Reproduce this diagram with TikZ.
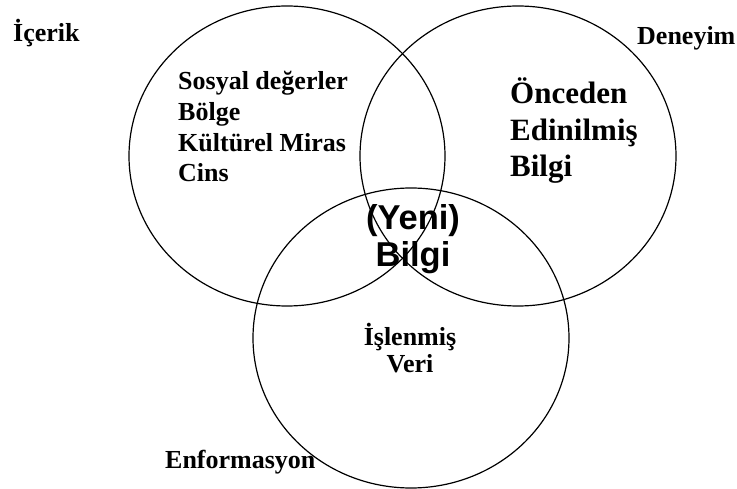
\documentclass[tikz,border=0pt]{standalone}
\usepackage{fontspec}
\setmainfont{Liberation Serif}
\newfontfamily\arialfont{Liberation Sans}
\usetikzlibrary{positioning}
\tikzstyle{ring}=[line width=1.2pt]
\tikzstyle{lbl}=[inner sep=0pt, font=\bfseries\fontsize{26}{30}\selectfont]
\tikzstyle{bigl}=[inner sep=0pt, font=\bfseries\fontsize{31}{36}\selectfont]
\tikzstyle{core}=[inner sep=0pt, font=\arialfont\bfseries\fontsize{34.5}{37}\selectfont]

\begin{document}
\begin{tikzpicture}[x=1pt, y=-1pt]
			\useasboundingbox (0,0) rectangle (737,489);
			\coordinate (icerik) at (287,156);
			\coordinate (deneyim) at (518,156);
			\coordinate (enformasyon) at (411,338);
			\foreach \c in {icerik, deneyim, enformasyon}{
				\draw[ring] (\c) ellipse [x radius=158, y radius=150];
			}
			\node[lbl, anchor=base west] (icerik-lbl) at (13,42) {İçerik};
			\node[lbl, anchor=base west] (deneyim-lbl) at (637,45) {Deneyim};
			\node[lbl, anchor=base west] (enf-lbl) at (165,468) {Enformasyon};
			\foreach \t [count=\i] in {Sosyal değerler, Bölge, Kültürel Miras, Cins}{
				\node[lbl, anchor=base west] (sos-\i) at (178,{90+30.6*(\i-1)}) {\t};
			}
			\foreach \t [count=\i] in {Önceden, Edinilmiş, Bilgi}{
				\node[bigl, anchor=base west] (onc-\i) at (510,{104+36.5*(\i-1)}) {\t};
			}
			\foreach \t [count=\i] in {(Yeni), Bilgi}{
				\node[core, anchor=base] (yeni-\i) at (413,{230+37*(\i-1)}) {\t};
			}
			\foreach \t [count=\i] in {İşlenmiş, Veri}{
				\node[lbl, anchor=base] (isl-\i) at (410,{345+27*(\i-1)}) {\t};
			}
		\end{tikzpicture}
\end{document}
